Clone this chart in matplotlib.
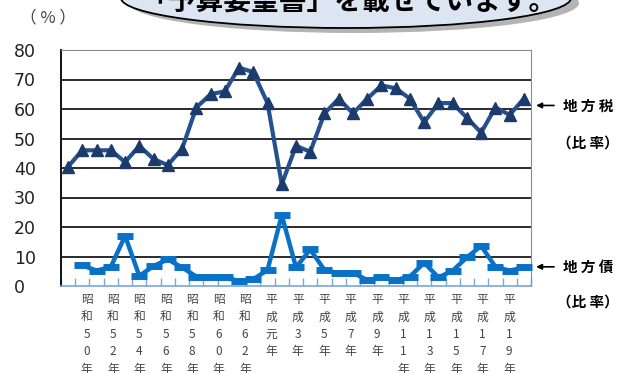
import numpy as np
import matplotlib
matplotlib.use("Agg")
import matplotlib.pyplot as plt
from matplotlib.patches import Ellipse
from matplotlib.transforms import blended_transform_factory

plt.rcParams['font.family'] = ['Noto Sans CJK JP', 'DejaVu Sans']

# 地方税の比率 (%) 昭和50年〜平成19年
tax = [40.5, 46, 46, 46, 42, 47.5, 43, 41, 46.5, 60.5, 65, 66, 74, 72.5, 62,
       34.5, 47.5, 45.5, 58.5, 63.5, 58.5, 63.5, 68, 67, 63.5, 55.5, 62, 62,
       57, 52, 60.5, 58, 63.5]
# 地方債の比率 (%) 2番目の年から
debt = [7.0, 5.2, 6.5, 17, 3.4, 6.8, 9.0, 6.3, 3.2, 3.0, 2.9, 1.7, 2.3, 5.4,
        24, 6.3, 12.4, 5.4, 4.3, 4.5, 2.0, 2.9, 2.0, 3.2, 7.9, 2.9, 5.2, 9.7,
        13.6, 6.5, 5.2, 6.3]
year_labels = ['昭和50年', '昭和52年', '昭和54年', '昭和56年', '昭和58年',
               '昭和60年', '昭和62年', '平成元年', '平成3年', '平成5年',
               '平成7年', '平成9年', '平成11年', '平成13年', '平成15年',
               '平成17年', '平成19年']
yticks = [0, 10, 20, 30, 40, 50, 60, 70, 80]

W, H = 638, 373


def fx(px):
    return px / W


def fy(py):
    return 1 - py / H


fig = plt.figure(figsize=(W / 100, H / 100), dpi=100)

# speech bubble at the top (cut by the figure edge)
shadow = Ellipse((fx(354), fy(3)), 450 / W, 60 / H, transform=fig.transFigure,
                 facecolor='#b4b4b4', edgecolor='none', zorder=0)
bubble = Ellipse((fx(346), fy(-2)), 450 / W, 60 / H, transform=fig.transFigure,
                 facecolor='#dce6f2', edgecolor='black', lw=1.3, zorder=1)
fig.patches.extend([shadow, bubble])
fig.text(fx(348), fy(2), '「予算要望書」を載せています。', ha='center', va='center',
         fontsize=20, fontweight='bold', color='black', zorder=2)

ax = fig.add_axes([fx(61), fy(286), 470 / W, 236 / H])

x = np.arange(len(tax))
ax.plot(x, tax, color='#25528f', lw=3, marker='^', ms=8,
        mfc='#1c3a6b', mec='#1c3a6b', zorder=4, clip_on=False)
ax.plot(x[1:], debt, color='#0a72c6', lw=3.2, marker='_', ms=11, mew=5,
        zorder=3, clip_on=False)

ax.set_xlim(-0.5, len(tax) - 0.5)
ax.set_ylim(0, 80)
ax.set_yticks(yticks)
ax.set_yticklabels([str(v) for v in yticks], fontsize=12.5, color='#222222',
                   family='DejaVu Sans')
for lab in ax.get_yticklabels():
    lab.set_horizontalalignment('left')
ax.tick_params(axis='y', length=0, pad=34)

ax.yaxis.grid(True, color='#1a1a1a', lw=1.3)
ax.set_axisbelow(True)
for v, gl in zip(yticks, ax.get_ygridlines()):
    if v in (0, 80):
        gl.set_visible(False)

# year labels, written vertically
label_pos = np.linspace(1.3, 30.95, len(year_labels))
ax.set_xticks(label_pos)
ax.set_xticklabels(['\n'.join(s) for s in year_labels], fontsize=8.5,
                   color='#444444', linespacing=1.45, va='top')
ax.tick_params(axis='x', which='major', length=0, pad=5)
ax.set_xticks(np.arange(-0.5, len(tax)), minor=True)
ax.tick_params(axis='x', which='minor', direction='in', length=6,
               color='#7aa6dc', width=1)

ax.spines['left'].set_color('#111111')
ax.spines['left'].set_linewidth(1.4)
ax.spines['top'].set_color('#8c8c8c')
ax.spines['right'].set_color('#8c8c8c')
ax.spines['bottom'].set_color('#7aa6dc')
ax.spines['bottom'].set_linewidth(1.2)

fig.text(fx(20), fy(18), '（ % ）', fontsize=12, color='#444444',
         ha='left', va='center')

# series labels on the right
tr = blended_transform_factory(ax.transAxes, ax.transData)
for yv, name, yv2 in [(61.2, '地 方 税', 48.7), (6.5, '地 方 債', -5.4)]:
    ax.annotate('', xy=(1.005, yv), xytext=(1.055, yv), xycoords=tr,
                textcoords=tr,
                arrowprops=dict(arrowstyle='-|>', color='black', lw=1.2,
                                mutation_scale=8))
    ax.text(1.068, yv, name, transform=tr, fontsize=10.5, fontweight='bold',
            ha='left', va='center', clip_on=False)
    ax.text(1.055, yv2, '（比 率）', transform=tr, fontsize=10.5,
            fontweight='bold', ha='left', va='center', clip_on=False)

fig.savefig('out.png', dpi=100)
